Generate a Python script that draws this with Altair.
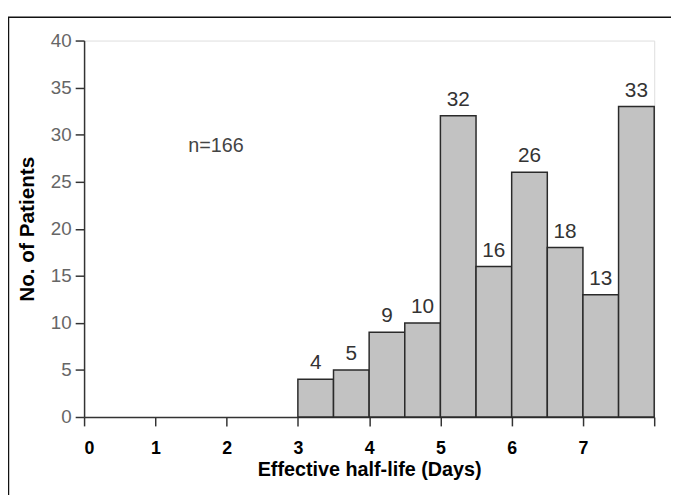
import altair as alt
import pandas as pd

# Histogram bins (days) and counts
bin_start = [3.0, 3.5, 4.0, 4.5, 5.0, 5.5, 6.0, 6.5, 7.0, 7.5]
bin_end = [3.5, 4.0, 4.5, 5.0, 5.5, 6.0, 6.5, 7.0, 7.5, 8.0]
counts = [4, 5, 9, 10, 32, 16, 26, 18, 13, 33]

x_ticks = [0, 0.5, 1, 1.5, 2, 2.5, 3, 3.5, 4, 4.5, 5, 5.5, 6, 6.5, 7, 7.5, 8]
y_ticks = [0, 5, 10, 15, 20, 25, 30, 35, 40]

note_text = ["n=166"]
note_x = [1.85]
note_y = [28.8]

df = pd.DataFrame({"start": bin_start, "end": bin_end, "count": counts})
df["mid"] = (df["start"] + df["end"]) / 2
note_df = pd.DataFrame({"t": note_text, "x": note_x, "y": note_y})

FONT = "Liberation Sans"

xscale = alt.Scale(domain=[0, 8], nice=False, zero=False)
yscale = alt.Scale(domain=[0, 40], nice=False)

bars = alt.Chart(df).mark_rect(
    fill="#c2c2c2", stroke="#2a2a2a", strokeWidth=1.5
).encode(
    x=alt.X("start:Q", scale=xscale,
            axis=alt.Axis(values=x_ticks,
                          labelExpr="(datum.value % 1 == 0 && datum.value < 8) ? toString(datum.value) : ''",
                          title="Effective half-life (Days)",
                          titleFont=FONT, titleFontSize=20, titleFontWeight="bold",
                          titleColor="#000", titlePadding=2,
                          labelFont=FONT, labelFontSize=18, labelFontWeight="bold",
                          labelColor="#000", labelPadding=14,
                          tickSize=9, tickColor="#333", tickWidth=1.5,
                          domainColor="#333", domainWidth=1.5, grid=False)),
    x2="end:Q",
    y=alt.Y("count:Q", scale=yscale,
            axis=alt.Axis(values=y_ticks, title="No. of Patients",
                          titleFont=FONT, titleFontSize=21, titleFontWeight="bold",
                          titleColor="#000", titlePadding=13,
                          labelFont=FONT, labelFontSize=19, labelColor="#666",
                          labelPadding=4,
                          tickSize=9, tickColor="#333", tickWidth=1.5,
                          domainColor="#333", domainWidth=1.5, grid=False)),
    y2=alt.datum(0),
)

labels = alt.Chart(df).mark_text(
    font=FONT, fontSize=21, color="#333", baseline="bottom", dy=-6
).encode(
    x=alt.X("mid:Q", scale=xscale),
    y=alt.Y("count:Q", scale=yscale),
    text="count:Q",
)

note = alt.Chart(note_df).mark_text(
    font=FONT, fontSize=20, color="#444"
).encode(
    x=alt.X("x:Q", scale=xscale),
    y=alt.Y("y:Q", scale=yscale),
    text="t:N",
)

frame = alt.Chart(pd.DataFrame({"a": [1]})).mark_rect(
    filled=False, stroke="#111", strokeWidth=1.5
).encode(
    x=alt.value(-76.5), x2=alt.value(640),
    y=alt.value(-23.5), y2=alt.value(520),
)

chart = alt.layer(frame, bars, labels, note).properties(
    width=577, height=381,
    autosize=alt.AutoSizeParams(type="none"),
    padding={"left": 77, "top": 30, "right": 17, "bottom": 76},
).configure_view(
    stroke="#333", strokeWidth=1.5
).configure(background="white")

chart.save("out.html", embed_options={"renderer": "svg", "actions": False})
